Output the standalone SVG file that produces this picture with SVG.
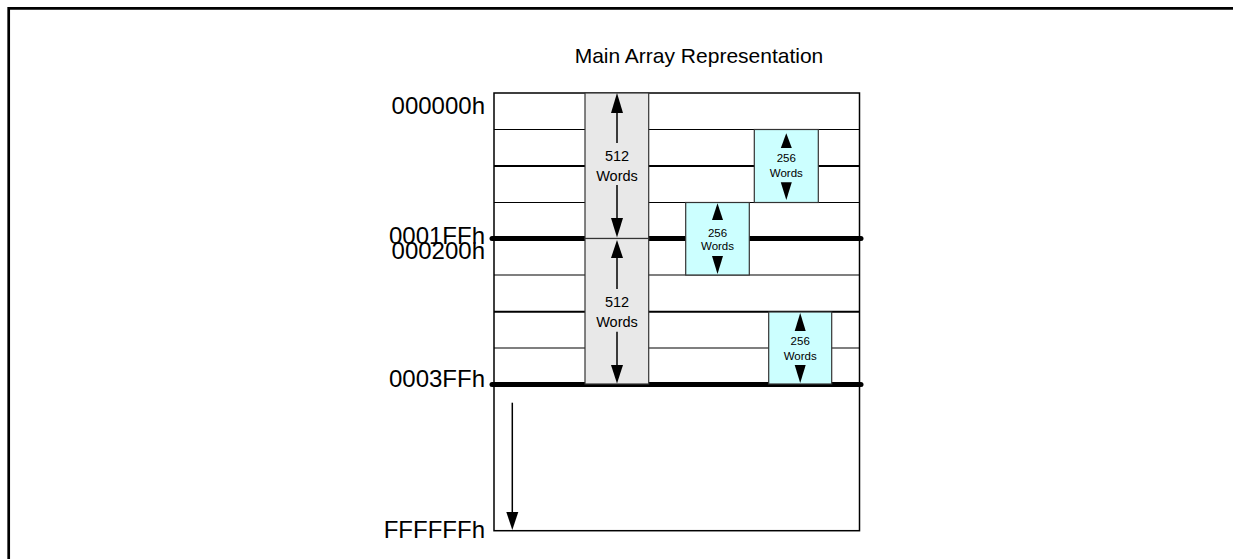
<svg xmlns="http://www.w3.org/2000/svg" width="1233" height="559" viewBox="0 0 1233 559">
<style>
text{font-family:"Liberation Sans",Arial,sans-serif;fill:#000}
.addr{font-size:24px;text-anchor:end}
.title{font-size:21px;text-anchor:middle}
.w512{font-size:14.5px;text-anchor:middle}
.w256{font-size:11.5px;text-anchor:middle}
.row{stroke:#000;stroke-width:1.2;fill:none}
.rowb{stroke:#000;stroke-width:2;fill:none}
.thick{stroke:#000;stroke-width:5;stroke-linecap:round;fill:none}
.gray{fill:#e8e8e8;stroke:#333;stroke-width:1.2}
.cyan{fill:#ccffff;stroke:#333;stroke-width:1.2}
.ln{stroke:#000;stroke-width:1.5;fill:none}
.head{fill:#000}
</style>
<rect x="0" y="0" width="1233" height="559" fill="#fff"/>
<g id="frame">
<path d="M8.7,559 L8.7,8.3 L1233,8.3" fill="none" stroke="#000" stroke-width="2.7"/>
</g>
<g id="title"><text class="title" x="699" y="63">Main Array Representation</text></g>
<g id="array">
<rect x="494" y="93" width="365.5" height="437.7" fill="#fff" stroke="#000" stroke-width="1.5"/>
<line class="row" x1="494" y1="129.5" x2="859.5" y2="129.5"/>
<line class="rowb" x1="494" y1="166" x2="859.5" y2="166"/>
<line class="row" x1="494" y1="202.5" x2="859.5" y2="202.5"/>
<line class="row" x1="494" y1="275" x2="859.5" y2="275"/>
<line class="rowb" x1="494" y1="311.7" x2="859.5" y2="311.7"/>
<line class="row" x1="494" y1="348" x2="859.5" y2="348"/>
<line class="thick" x1="492" y1="238.5" x2="861" y2="238.5"/>
<line class="thick" x1="492" y1="384.5" x2="861" y2="384.5"/>
</g>
<g id="labels">
<text class="addr" x="485" y="114.3">000000h</text>
<text class="addr" x="485" y="244">0001FFh</text>
<text class="addr" x="485" y="259">000200h</text>
<text class="addr" x="485" y="387.3">0003FFh</text>
<text class="addr" x="485" y="538">FFFFFFh</text>
</g>
<g id="block512a">
<rect class="gray" x="585" y="93" width="63.7" height="145.5"/>
<path class="head" d="M617,93 L623,113 L611,113 Z"/>
<line class="ln" x1="617" y1="112" x2="617" y2="143"/>
<text class="w512" x="617" y="161">512</text>
<text class="w512" x="617" y="181">Words</text>
<line class="ln" x1="617" y1="185" x2="617" y2="219"/>
<path class="head" d="M617,237.5 L623,218 L611,218 Z"/>
</g>
<g id="block512b">
<rect class="gray" x="585" y="238.5" width="63.7" height="145.5"/>
<path class="head" d="M617,240 L623,258 L611,258 Z"/>
<line class="ln" x1="617" y1="257" x2="617" y2="289"/>
<text class="w512" x="617" y="306.7">512</text>
<text class="w512" x="617" y="326.7">Words</text>
<line class="ln" x1="617" y1="331.7" x2="617" y2="366"/>
<path class="head" d="M617,383.5 L623,365 L611,365 Z"/>
</g>
<g id="block256a">
<rect class="cyan" x="754.3" y="129.5" width="64" height="73"/>
<path class="head" d="M786.3,133.3 L791.8,148 L780.8,148 Z"/>
<text class="w256" x="786.3" y="162.3">256</text>
<text class="w256" x="786.3" y="176.7">Words</text>
<path class="head" d="M786.3,200 L791.8,182.3 L780.8,182.3 Z"/>
</g>
<g id="block256b">
<rect class="cyan" x="685.7" y="202.5" width="63.6" height="72.5"/>
<path class="head" d="M717.5,203.3 L723,220 L712,220 Z"/>
<text class="w256" x="717.5" y="236.7">256</text>
<text class="w256" x="717.5" y="250">Words</text>
<path class="head" d="M717.5,274 L723,256 L712,256 Z"/>
</g>
<g id="block256c">
<rect class="cyan" x="768.7" y="312" width="63" height="72"/>
<path class="head" d="M800.2,313 L805.7,331 L794.7,331 Z"/>
<text class="w256" x="800.2" y="345">256</text>
<text class="w256" x="800.2" y="360">Words</text>
<path class="head" d="M800.2,383 L805.7,365 L794.7,365 Z"/>
</g>
<g id="connectors">
<line class="ln" x1="512.3" y1="402.7" x2="512.3" y2="515"/>
<path class="head" d="M512.3,530 L518.3,512 L506.3,512 Z"/>
</g>
</svg>
